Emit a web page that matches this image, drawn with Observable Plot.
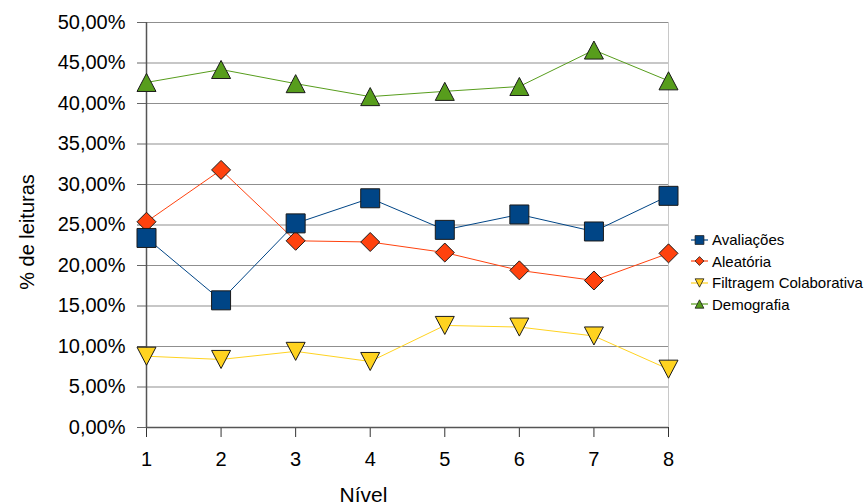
<!DOCTYPE html>
<html>
<head>
<meta charset="utf-8">
<script src="https://cdn.jsdelivr.net/npm/d3@7"></script>
<script src="https://cdn.jsdelivr.net/npm/@observablehq/plot@0.6"></script>
<style>
  html, body { margin: 0; padding: 0; background: #fff; }
  #chart { position: relative; width: 865px; height: 504px; font-family: "Liberation Sans", Arial, sans-serif; }
  #legend { position: absolute; left: 690px; top: 229px; font-size: 15px; color: #000; }
  #legend .row { display: flex; align-items: center; height: 21.5px; white-space: nowrap; }
  #legend svg { display: block; margin-right: 3px; }
</style>
</head>
<body>
<div id="chart"><div id="legend"></div></div>
<script>
// Percentage of readings per level, for each recommendation strategy
const niveis = [1, 2, 3, 4, 5, 6, 7, 8];
const series = ["Avaliações", "Aleatória", "Filtragem Colaborativa", "Demografia"];
const avaliacoes = [23.4, 15.7, 25.2, 28.3, 24.4, 26.3, 24.2, 28.6];
const aleatoria = [25.4, 31.8, 23.05, 22.9, 21.6, 19.4, 18.15, 21.5];
const filtragem = [8.8, 8.4, 9.4, 8.15, 12.6, 12.4, 11.3, 7.2];
const demografia = [42.6, 44.2, 42.45, 40.85, 41.5, 42.1, 46.6, 42.8];
const yTicks = [0, 5, 10, 15, 20, 25, 30, 35, 40, 45, 50];
const cores = ["#004586", "#ff420e", "#ffd320", "#579d1c"];

const valores = [avaliacoes, aleatoria, filtragem, demografia];
const linhas = series.flatMap((s, i) => niveis.map((n, j) => ({serie: s, nivel: n, valor: valores[i][j]})));

// Marker shapes as custom symbol objects (unit polygons scaled by r)
function poligono(pts) {
  return {
    draw(ctx, size) {
      const r = Math.sqrt(size / Math.PI);
      ctx.moveTo(pts[0][0] * r, pts[0][1] * r);
      for (const p of pts.slice(1)) ctx.lineTo(p[0] * r, p[1] * r);
      ctx.closePath();
    }
  };
}
const simbolos = [
  poligono([[-1, -1], [1, -1], [1, 1], [-1, 1]]),
  poligono([[0, -1], [1, 0], [0, 1], [-1, 0]]),
  poligono([[-1, -0.95], [1, -0.95], [0, 0.95]]),
  poligono([[0, -0.95], [1, 0.95], [-1, 0.95]])
];

const fmt = d => d.toFixed(2).replace(".", ",") + "%";

// Drawing order: yellow, green, red, blue (blue squares on top)
const ordem = [2, 3, 1, 0];
const marcasSeries = ordem.flatMap(i => {
  const dados = linhas.filter(d => d.serie === series[i]);
  return [
    Plot.line(dados, {x: "nivel", y: "valor", stroke: cores[i], strokeWidth: 1}),
    Plot.dot(dados, {x: "nivel", y: "valor", symbol: simbolos[i], r: 9.5, fill: cores[i], stroke: "#1a1a1a", strokeWidth: 1})
  ];
});

const plot = Plot.plot({
  width: 865,
  height: 504,
  marginLeft: 146,
  marginRight: 197,
  marginTop: 22,
  marginBottom: 77,
  style: {fontFamily: "'Liberation Sans', Arial, sans-serif", background: "transparent", color: "#000"},
  x: {domain: [1, 8]},
  y: {domain: [0, 50]},
  marks: [
    Plot.gridY(yTicks, {stroke: "#8f8f8f", strokeOpacity: 1, strokeWidth: 1}),
    Plot.ruleX([8], {stroke: "#c8c8c8", strokeWidth: 1}),
    Plot.axisY(yTicks, {tickFormat: fmt, tickSize: 9, tickPadding: 12, fontSize: 20, stroke: "#666", fill: "#000", label: null}),
    Plot.axisX(niveis, {tickFormat: d => String(d), tickSize: 10, tickPadding: 14, fontSize: 20, stroke: "#333", fill: "#000", label: null}),
    Plot.ruleY([0], {stroke: "#555", strokeWidth: 1.5}),
    Plot.ruleX([1], {stroke: "#555", strokeWidth: 1.5}),
    ...marcasSeries,
    Plot.text(["% de leituras"], {frameAnchor: "left", textAnchor: "middle", rotate: -90, dx: -119, dy: 7, fontSize: 20, lineAnchor: "middle", fill: "#000"}),
    Plot.text(["Nível"], {frameAnchor: "bottom", textAnchor: "middle", dx: -44, dy: 74, fontSize: 21, lineAnchor: "bottom", fill: "#000"})
  ]
});
document.getElementById("chart").prepend(plot);
plot.style.position = "absolute";
plot.style.left = "0";
plot.style.top = "0";

// Legend
const legenda = d3.select("#legend");
series.forEach((s, i) => {
  const row = legenda.append("div").attr("class", "row");
  const svg = row.append("svg").attr("width", 19).attr("height", 14);
  svg.append("line").attr("x1", 1).attr("x2", 18).attr("y1", 7).attr("y2", 7).attr("stroke", cores[i]).attr("stroke-width", 1.2);
  svg.append("path").attr("transform", "translate(9.5,7)")
    .attr("d", d3.symbol(simbolos[i], Math.PI * 4.4 * 4.4)())
    .attr("fill", cores[i]).attr("stroke", "#1a1a1a").attr("stroke-width", 0.8);
  row.append("span").text(s);
});
</script>
</body>
</html>
